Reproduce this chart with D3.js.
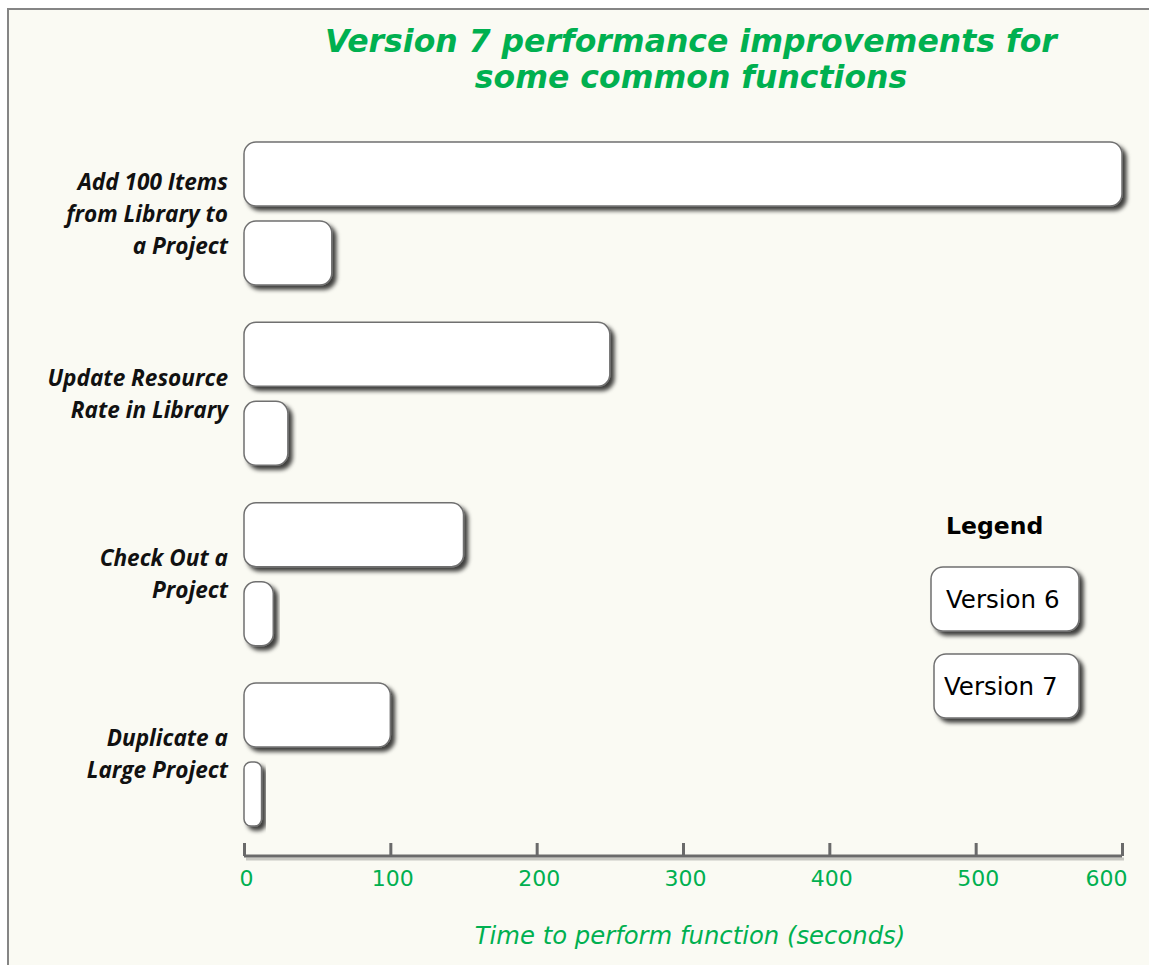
<!DOCTYPE html>
<html>
<head>
<meta charset="utf-8">
<script src="https://cdn.jsdelivr.net/npm/d3@7"></script>
<style>
  html, body { margin: 0; background: #fafaf3; overflow: hidden; }
  svg { display: block; }
</style>
</head>
<body>
<svg id="draw"></svg>
<script>
// chart values
var categories = [
  ["Add 100 Items", "from Library to", "a Project"],
  ["Update Resource", "Rate in Library"],
  ["Check Out a", "Project"],
  ["Duplicate a", "Large Project"]
];
var series = ["Version 6", "Version 7"];
var version6 = [600, 250, 150, 100];
var version7 = [60, 30, 20, 12];
var tickValues = [0, 100, 200, 300, 400, 500, 600];

var W = 1149, H = 965;
var green = "#00b050";

var svg = d3.select("#draw").attr("width", W).attr("height", H);

var defs = svg.append("defs");
var f = defs.append("filter").attr("id", "shadow")
  .attr("x", "-10%").attr("y", "-10%").attr("width", "130%").attr("height", "150%");
f.append("feDropShadow")
  .attr("dx", 4).attr("dy", 4).attr("stdDeviation", 2.2)
  .attr("flood-color", "#000").attr("flood-opacity", 0.75);

// background panel, frame only on top and left
svg.append("rect").attr("x", 0).attr("y", 0).attr("width", W).attr("height", H)
  .attr("fill", "#ffffff");
svg.append("rect").attr("x", 8).attr("y", 9).attr("width", W).attr("height", H)
  .attr("fill", "#fafaf3");
svg.append("path").attr("d", "M8," + H + "V9H" + W)
  .attr("fill", "none").attr("stroke", "#858585").attr("stroke-width", 2);

// title
var title = svg.append("text")
  .attr("text-anchor", "middle")
  .attr("fill", green)
  .style("font-family", "DejaVu Sans, Verdana, sans-serif")
  .style("font-weight", "bold")
  .style("font-style", "italic")
  .style("font-size", "31.5px");
title.append("tspan").attr("x", 691).attr("y", 52).text("Version 7 performance improvements for");
title.append("tspan").attr("x", 691).attr("y", 88).text("some common functions");

var x = d3.scaleLinear().domain([0, 600]).range([244, 1122]);

var y0 = d3.scaleBand()
  .domain(d3.range(categories.length))
  .range([142, 826])
  .paddingInner(0.207)
  .paddingOuter(0);

var y1 = d3.scaleBand()
  .domain(series)
  .range([0, y0.bandwidth()])
  .paddingInner(0.19);

var data = categories.map(function(c, i) {
  return { label: c, values: [
    { s: "Version 6", v: version6[i] },
    { s: "Version 7", v: version7[i] }
  ] };
});

var groups = svg.selectAll(".grp")
  .data(data)
  .enter().append("g")
  .attr("class", "grp")
  .attr("transform", function(d, i) { return "translate(0," + y0(i) + ")"; });

groups.selectAll("rect")
  .data(function(d) { return d.values; })
  .enter().append("rect")
  .attr("x", x(0))
  .attr("y", function(d) { return y1(d.s); })
  .attr("width", function(d) { return x(d.v) - x(0); })
  .attr("height", y1.bandwidth())
  .attr("rx", function(d) { return Math.min(12, (x(d.v) - x(0)) / 2.5); })
  .attr("fill", "#ffffff")
  .attr("stroke", "#707070")
  .attr("stroke-width", 1.5)
  .attr("filter", "url(#shadow)");

// category labels
groups.each(function(d) {
  var g = d3.select(this);
  var n = d.label.length;
  var mid = y0.bandwidth() / 2;
  var lh = 32;
  var t = g.append("text")
    .attr("text-anchor", "end")
    .attr("fill", "#111")
    .style("font-family", "Open Sans, sans-serif")
    .style("font-weight", "bold")
    .style("font-style", "italic")
    .style("font-size", "22.6px");
  d.label.forEach(function(line, k) {
    t.append("tspan")
      .attr("x", 228)
      .attr("y", mid + (k - (n - 1) / 2) * lh + 8)
      .text(line);
  });
});

// x axis
var axisY = 856;
var axis = d3.axisBottom(x).tickValues(tickValues).tickSize(0).tickPadding(14);
var ax = svg.append("g").attr("transform", "translate(0," + axisY + ")").call(axis);
ax.select(".domain").remove();
// soft shadow under the axis bar
ax.append("line")
  .attr("x1", x(0) + 2).attr("x2", x(600) + 2).attr("y1", 3).attr("y2", 3)
  .attr("stroke", "#000").attr("stroke-opacity", 0.2).attr("stroke-width", 3);
ax.append("line")
  .attr("x1", x(0)).attr("x2", x(600)).attr("y1", 0).attr("y2", 0)
  .attr("stroke", "#6a6a6a").attr("stroke-width", 3);
ax.selectAll(".tick").append("line")
  .attr("x1", 0).attr("x2", 0).attr("y1", -13).attr("y2", 0)
  .attr("stroke", "#6a6a6a").attr("stroke-width", 3);
ax.selectAll(".tick text")
  .attr("fill", green)
  .style("font-family", "DejaVu Sans, Verdana, sans-serif")
  .style("font-size", "22px")
  .attr("text-anchor", function(d) { return d === 600 ? "end" : "middle"; })
  .attr("dx", function(d) { return d === 600 ? 5 : 2; });

svg.append("text")
  .attr("x", 690).attr("y", 944)
  .attr("text-anchor", "middle")
  .attr("fill", green)
  .style("font-family", "DejaVu Sans, Verdana, sans-serif")
  .style("font-style", "italic")
  .style("font-size", "24.3px")
  .text("Time to perform function (seconds)");

// legend
svg.append("text")
  .attr("x", 946).attr("y", 534)
  .attr("fill", "#000")
  .style("font-family", "DejaVu Sans, Verdana, sans-serif")
  .style("font-weight", "bold")
  .style("font-size", "23.5px")
  .text("Legend");

var legendBoxes = [
  { s: series[0], x: 931, y: 567, w: 148, tx: 946 },
  { s: series[1], x: 934, y: 654, w: 145, tx: 944 }
];
var lg = svg.selectAll(".leg").data(legendBoxes).enter().append("g").attr("class", "leg");
lg.append("rect")
  .attr("x", function(d) { return d.x; })
  .attr("y", function(d) { return d.y; })
  .attr("width", function(d) { return d.w; })
  .attr("height", 64)
  .attr("rx", 12)
  .attr("fill", "#fff")
  .attr("stroke", "#707070")
  .attr("stroke-width", 1.5)
  .attr("filter", "url(#shadow)");
lg.append("text")
  .attr("x", function(d) { return d.tx; })
  .attr("y", function(d) { return d.y + 41; })
  .attr("fill", "#000")
  .style("font-family", "DejaVu Sans, Verdana, sans-serif")
  .style("font-size", "24.5px")
  .text(function(d) { return d.s; });
</script>
</body>
</html>
